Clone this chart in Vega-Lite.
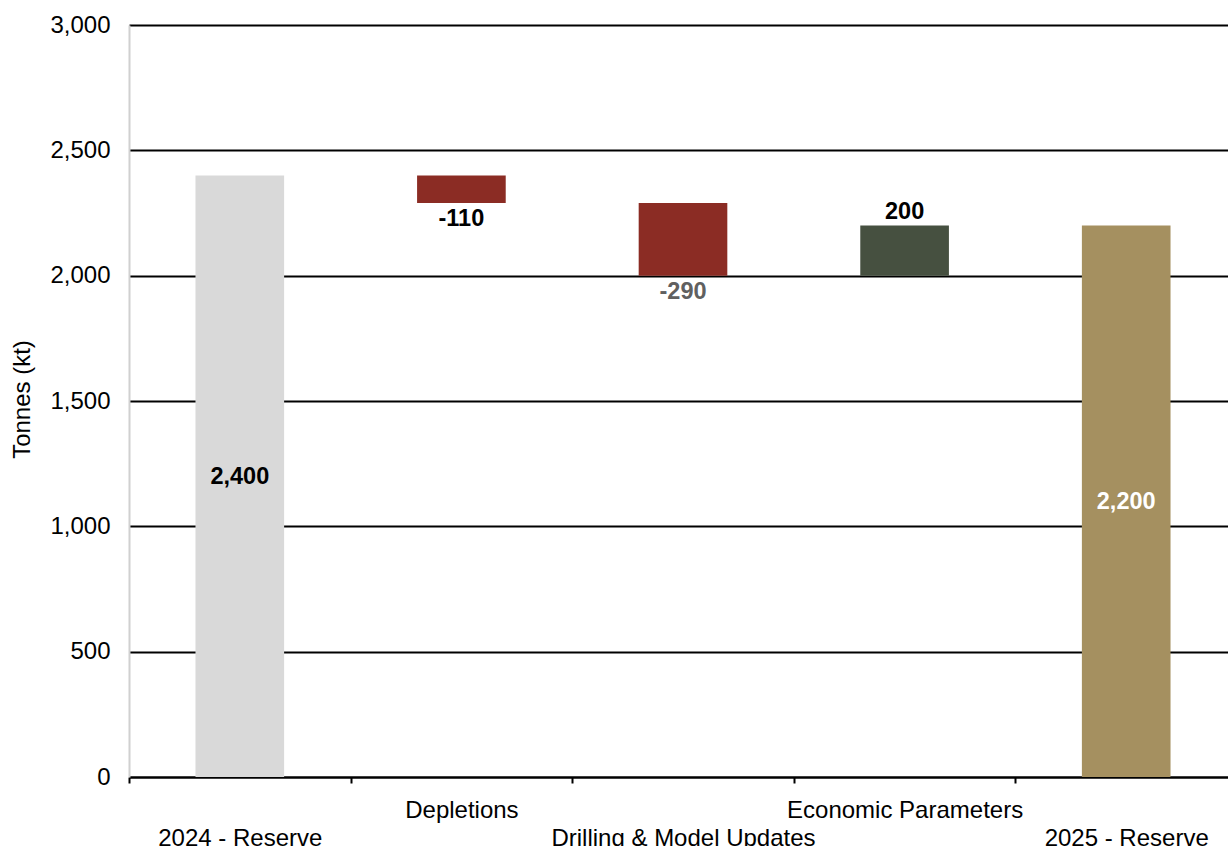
{
  "$schema": "https://vega.github.io/schema/vega-lite/v6.json",
  "autosize": "none",
  "width": 1108,
  "height": 752,
  "padding": {"left": 129, "top": 25, "right": -9, "bottom": 69},
  "background": "white",
  "config": {
    "font": "Liberation Sans",
    "view": {"stroke": null}
  },
  "data": {
    "values": [
      {"cat": "2024 - Reserve", "start": 0, "end": 2400, "label": "2,400", "kind": "total"},
      {"cat": "Depletions", "start": 2400, "end": 2290, "label": "-110", "kind": "decrease"},
      {"cat": "Drilling & Model Updates", "start": 2290, "end": 2000, "label": "-290", "kind": "decrease"},
      {"cat": "Economic Parameters", "start": 2000, "end": 2200, "label": "200", "kind": "increase"},
      {"cat": "2025 - Reserve", "start": 0, "end": 2200, "label": "2,200", "kind": "total"}
    ]
  },
  "encoding": {
    "x": {
      "field": "cat",
      "type": "nominal",
      "sort": null,
      "scale": {"paddingInner": 0, "paddingOuter": 0},
      "axis": {
        "title": null,
        "labelAngle": 0,
        "labelFontSize": 24,
        "labelColor": "#000000",
        "labelLineHeight": 28,
        "labelPadding": 15,
        "labelLimit": 500,
        "labelExpr": "indexof(['Depletions','Economic Parameters'], datum.label) >= 0 ? datum.label : ['', datum.label]",
        "domainColor": "#000000",
        "domainWidth": 2,
        "tickColor": "#000000",
        "tickWidth": 2,
        "tickSize": 6,
        "tickBand": "extent",
        "grid": false
      }
    }
  },
  "layer": [
    {
      "mark": {"type": "bar", "width": {"band": 0.4}},
      "encoding": {
        "y": {
          "field": "start",
          "type": "quantitative",
          "scale": {"domain": [0, 3000], "nice": false},
          "axis": {
            "title": "Tonnes (kt)",
            "titleFontSize": 24,
            "titleFontWeight": "normal",
            "titleColor": "#000000",
            "titleX": -107,
            "titleY": 374,
            "titleBaseline": "middle",
            "values": [0, 500, 1000, 1500, 2000, 2500, 3000],
            "format": ",.0f",
            "labelFontSize": 24,
            "labelColor": "#000000",
            "labelPadding": 19,
            "ticks": false,
            "tickSize": 0,
            "domainColor": "#d0d0d0",
            "domainWidth": 2,
            "grid": true,
            "gridColor": "#000000",
            "gridWidth": 2
          }
        },
        "y2": {"field": "end"},
        "color": {
          "field": "cat",
          "type": "nominal",
          "sort": null,
          "legend": null,
          "scale": {
            "domain": ["2024 - Reserve", "Depletions", "Drilling & Model Updates", "Economic Parameters", "2025 - Reserve"],
            "range": ["#d9d9d9", "#8b2c24", "#8b2c24", "#465040", "#a59060"]
          }
        }
      }
    },
    {
      "transform": [
        {"filter": "datum.kind === 'total'"},
        {"calculate": "(datum.start + datum.end) / 2", "as": "mid"}
      ],
      "mark": {"type": "text", "fontSize": 23.5, "fontWeight": "bold", "baseline": "middle", "dy": 1},
      "encoding": {
        "y": {"field": "mid", "type": "quantitative"},
        "text": {"field": "label"},
        "color": {"condition": {"test": "datum.cat === '2025 - Reserve'", "value": "#ffffff"}, "value": "#000000"}
      }
    },
    {
      "transform": [{"filter": "datum.kind === 'decrease'"}],
      "mark": {"type": "text", "fontSize": 23.5, "fontWeight": "bold", "baseline": "top", "dy": 4},
      "encoding": {
        "y": {"field": "end", "type": "quantitative"},
        "text": {"field": "label"},
        "color": {"condition": {"test": "datum.cat === 'Drilling & Model Updates'", "value": "#606060"}, "value": "#000000"}
      }
    },
    {
      "transform": [{"filter": "datum.kind === 'increase'"}],
      "mark": {"type": "text", "fontSize": 23.5, "fontWeight": "bold", "baseline": "bottom", "dy": -2},
      "encoding": {
        "y": {"field": "end", "type": "quantitative"},
        "text": {"field": "label"},
        "color": {"value": "#000000"}
      }
    }
  ]
}
